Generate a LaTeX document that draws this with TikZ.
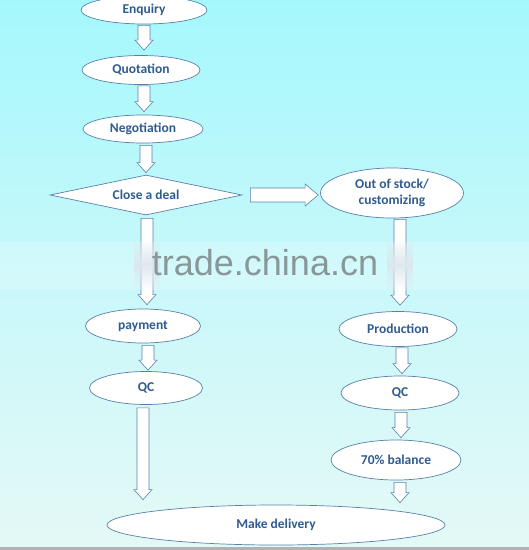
\documentclass[tikz,border=0pt]{standalone}
\usepackage{fontspec}
\setmainfont{Carlito}
\newfontfamily\wmfont{Liberation Sans}
\usetikzlibrary{shapes.geometric,calc,fadings}
\definecolor{bgtop}{RGB}{164,248,252}
\definecolor{bgmid}{RGB}{200,248,250}
\definecolor{bgbot}{RGB}{228,249,246}
\definecolor{edgeblue}{RGB}{88,128,172}
\definecolor{txtblue}{RGB}{46,92,146}
\definecolor{wmgray}{RGB}{136,152,152}
\tikzfading[name=softbox, top color=transparent!100, bottom color=transparent!100, middle color=transparent!0]
\begin{document}
\begin{tikzpicture}[x=1pt,y=-1pt,
  stepnode/.style={ellipse, draw=edgeblue, line width=0.7pt, fill=white,
    inner sep=0pt, text=txtblue, font=\fontsize{13.5}{15.5}\selectfont\bfseries, align=center},
  decision/.style={diamond, aspect=5, draw=edgeblue, line width=0.7pt, fill=white,
    inner sep=0pt, text=txtblue, font=\fontsize{13.5}{15.5}\selectfont\bfseries},
  downarrow/.style={draw=edgeblue, line width=0.6pt, fill=white,
    to path={let \p1=(\tikztostart), \p2=(\tikztotarget) in
      (\x1-6pt,\y1) -- (\x1+6pt,\y1) -- (\x1+6pt,\y2+10pt) -- (\x1+9pt,\y2+10pt)
      -- (\x1,\y2) -- (\x1-9pt,\y2+10pt) -- (\x1-6pt,\y2+10pt) -- cycle}},
  rightarrow/.style={draw=edgeblue, line width=0.6pt, fill=white,
    to path={let \p1=(\tikztostart), \p2=(\tikztotarget) in
      (\x1,\y1+7pt) -- (\x2-13pt,\y1+7pt) -- (\x2-13pt,\y1+11pt) -- (\x2,\y1)
      -- (\x2-13pt,\y1-11pt) -- (\x2-13pt,\y1-7pt) -- (\x1,\y1-7pt) -- cycle}},
  blur/.style={fill=white!80!edgeblue, path fading=softbox, opacity=0.95}
]
\useasboundingbox (0,0) rectangle (529,550);
\shade[top color=bgtop, bottom color=bgbot, middle color=bgmid] (0,0) rectangle (529,550);
\fill[gray!60] (0,547) rectangle (529,550);

\node[stepnode, minimum width=126pt, minimum height=28pt] (enq) at (144,10) {Enquiry};
\node[stepnode, minimum width=118pt, minimum height=29pt] (quo) at (141,70) {Quotation};
\node[stepnode, minimum width=120pt, minimum height=28pt] (neg) at (143,129) {Negotiation};
\node[decision, minimum width=192pt, minimum height=40pt] (deal) at (146,195) {Close a deal};
\node[stepnode, minimum width=143pt, minimum height=50pt] (oos) at (392,193) {Out of stock/\\customizing};
\node[stepnode, minimum width=115pt, minimum height=34pt] (pay) at (143,326) {payment};
\node[stepnode, minimum width=113pt, minimum height=33pt] (qca) at (146,388) {QC};
\node[stepnode, minimum width=118pt, minimum height=35pt] (prod) at (398,329) {Production};
\node[stepnode, minimum width=118pt, minimum height=34pt] (qcb) at (400,393) {QC};
\node[stepnode, minimum width=130pt, minimum height=40pt] (bal) at (396,460) {70\% balance};
\node[stepnode, minimum width=338pt, minimum height=40pt] (del) at (276,525) {Make delivery};

\path[downarrow] ([yshift=-1pt]enq.south) to ([yshift=5pt]quo.north);
\path[downarrow] ([xshift=3pt,yshift=-1pt]quo.south) to ([yshift=3pt]neg.north);
\path[downarrow] ([xshift=3pt,yshift=-2pt]neg.south) to ([yshift=2pt]deal.north);
\path[downarrow] ([xshift=1pt,yshift=-3pt]deal.south) to ([yshift=4pt]pay.north);
\path[downarrow] ([xshift=5pt,yshift=-2pt]pay.south) to ([yshift=1pt]qca.north);
\path[downarrow] ([xshift=-3pt,yshift=-3pt]qca.south) to ([yshift=5pt]del.north);
\path[rightarrow] ([xshift=8pt]deal.east) to ([xshift=-2pt]oos.west);
\path[downarrow] ([xshift=8pt,yshift=-1pt]oos.south) to ([yshift=6pt]prod.north);
\path[downarrow] ([xshift=4pt,yshift=-1pt]prod.south) to ([yshift=2pt]qcb.north);
\path[downarrow] ([xshift=1pt,yshift=-2pt]qcb.south) to ([yshift=2pt]bal.north);
\path[downarrow] ([xshift=4pt,yshift=-2pt]bal.south) to ([yshift=2pt]del.north);

% watermark band
\fill[white, opacity=0.2] (0,242) rectangle (529,290);
\fill[blur] (134,238) rectangle (160,290);
\fill[blur] (387,238) rectangle (413,290);
\node[anchor=base, inner sep=0pt, text=wmgray, font=\wmfont\fontsize{36}{40}\selectfont] (wm) at (265,275) {trade.china.cn};
\end{tikzpicture}
\end{document}
